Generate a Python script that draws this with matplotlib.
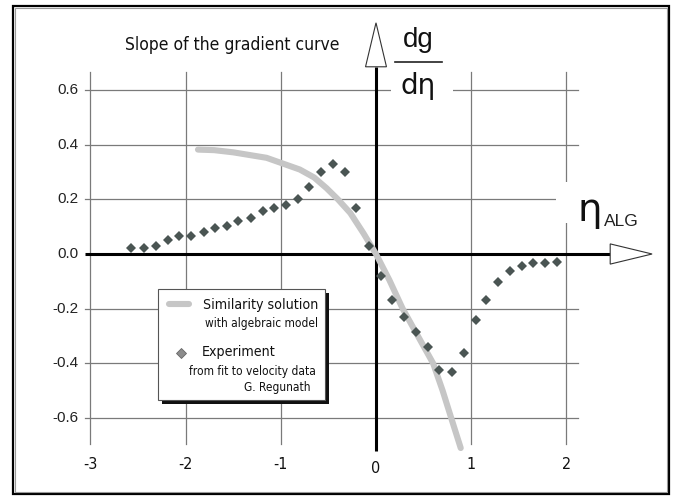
import matplotlib
matplotlib.use('Agg')
import matplotlib.pyplot as plt
from matplotlib.patches import Rectangle, Polygon
from matplotlib.transforms import Affine2D

W, H = 676, 497
NARROW = ['Liberation Sans Narrow', 'DejaVu Sans']
REG = ['Liberation Sans', 'DejaVu Sans']

# ── DATA ────────────────────────────────────────────────────────────────────
exp_x = [-2.57, -2.44, -2.31, -2.19, -2.07, -1.94, -1.81, -1.69, -1.57, -1.445,
         -1.316, -1.19, -1.07, -0.945, -0.82, -0.70, -0.58, -0.455, -0.326, -0.21,
         -0.075, 0.05, 0.167, 0.29, 0.425, 0.547, 0.663, 0.795, 0.925, 1.047,
         1.155, 1.285, 1.41, 1.53, 1.65, 1.775, 1.905]
exp_y = [0.021, 0.021, 0.029, 0.051, 0.066, 0.066, 0.082, 0.094, 0.104, 0.119,
         0.131, 0.159, 0.168, 0.178, 0.202, 0.244, 0.300, 0.331, 0.300, 0.168,
         0.029, -0.081, -0.168, -0.231, -0.285, -0.342, -0.424, -0.433, -0.362, -0.243,
         -0.167, -0.102, -0.061, -0.043, -0.034, -0.034, -0.028]

sim_x = [-1.87, -1.7, -1.5, -1.15, -0.8, -0.65, -0.52, -0.4, -0.27, -0.13,
         0.0, 0.14, 0.28, 0.44, 0.6, 0.7, 0.79, 0.89]
sim_y = [0.382, 0.38, 0.372, 0.352, 0.309, 0.28, 0.241, 0.2, 0.15, 0.075,
         0.0, -0.095, -0.2, -0.3, -0.4, -0.5, -0.6, -0.71]

xticks = [-3, -2, -1, 0, 1, 2]
yticks = [-0.6, -0.4, -0.2, 0.0, 0.2, 0.4, 0.6]
ytick_labels = ['-0.6', '-0.4', '-0.2', '0.0', '0.2', '0.4', '0.6']

# ── FIGURE ──────────────────────────────────────────────────────────────────
fig = plt.figure(figsize=(W / 100, H / 100), dpi=100)
ax = fig.add_axes([0, 0, 1, 1])
ax.set_axis_off()
X0, Y0, SX, SY = 376, 254, 95.2, 273.3   # origin pixel and px per unit
ax.set_xlim(-X0 / SX, (W - X0) / SX)
ax.set_ylim(-(H - Y0) / SY, Y0 / SY)
ax.set_autoscale_on(False)

# pixel transform (origin top-left) for the decoration
T = Affine2D().scale(1, -1).translate(0, H)


def ntext(x, y, s, size, **kw):
    # condensed text, in pixel coords
    ax.text(x, y, s, fontsize=size, family=NARROW, stretch='condensed',
            color='#111111', va='center', transform=T, zorder=8, **kw)


# frame
ax.add_patch(Rectangle((13, 6), 656, 488, fill=False, ec='black', lw=1.6, transform=T))
ax.add_patch(Rectangle((15, 8), 652, 484, fill=False, ec='#9a9a9a', lw=0.8, transform=T))

# grid
gx0, gx1 = -3.06, 2.12
gy0, gy1 = -0.695, 0.665
grid_c = '#7a7a7a'
for y in yticks:
    if y != 0:
        ax.plot([gx0, gx1], [y, y], color=grid_c, lw=0.9, zorder=1)
for x in xticks:
    if x != 0:
        ax.plot([x, x], [gy0, gy1], color=grid_c, lw=0.9, zorder=1)

# tick labels
for y, lab in zip(yticks, ytick_labels):
    ax.text(-3.12, y, lab, ha='right', va='center', fontsize=11, family=REG, color='#222222')
for x in xticks:
    ax.text(x, -0.77 if x != 0 else -0.785, str(x), ha='center', va='center',
            fontsize=11.5, family=NARROW, stretch='condensed', color='#111111')

# white boxes behind the axis labels
ax.add_patch(Rectangle((391, 18), 62, 98, fc='white', ec='none', zorder=2, transform=T))
ax.add_patch(Rectangle((556, 182), 96, 41, fc='white', ec='none', zorder=2, transform=T))

# axes lines + hollow arrows
ax.plot([gx0, 2.46], [0, 0], color='black', lw=2.2, zorder=3, solid_capstyle='butt')
ax.plot([0, 0], [-0.72, 0.685], color='black', lw=2.2, zorder=3, solid_capstyle='butt')
ax.add_patch(Polygon([[2.46, 0.037], [2.90, 0.0], [2.46, -0.037]], closed=True,
                     fc='white', ec='#333333', lw=0.8, zorder=3))
ax.add_patch(Polygon([[-0.11, 0.685], [0.0, 0.846], [0.11, 0.685]], closed=True,
                     fc='white', ec='#333333', lw=0.8, zorder=3))

# data
ax.plot(sim_x, sim_y, color='#c6c6c6', lw=4.4, solid_capstyle='round', zorder=4)
ax.plot(exp_x, exp_y, ls='none', marker='D', ms=5.4, mew=0, color='#4a5553', zorder=5)

# labels
ntext(232, 45, 'Slope of the gradient curve', 12.5, ha='center')
ax.text(418, 40, 'dg', ha='center', va='center', fontsize=20, family=REG,
        color='#111111', transform=T, zorder=6)
ax.plot([395, 442], [62, 62], color='#222222', lw=1.2, transform=T, zorder=6)
ax.text(418, 86, 'dη', ha='center', va='center', fontsize=20, family=['DejaVu Sans'],
        color='#111111', transform=T, zorder=6)
ax.text(590, 210, 'η', ha='center', va='center', fontsize=28, family=['DejaVu Sans'],
        color='#111111', transform=T, zorder=6)
ax.text(604, 221, 'ALG', ha='left', va='center', fontsize=12.5, family=REG,
        color='#222222', transform=T, zorder=6)

# legend box with shadow
ax.add_patch(Rectangle((162, 293), 167, 111, fc='#111111', ec='none', zorder=6, transform=T))
ax.add_patch(Rectangle((158, 289), 167, 111, fc='white', ec='#555555', lw=0.8, zorder=7, transform=T))
ax.plot([169, 189], [304, 304], color='#c6c6c6', lw=4.4, solid_capstyle='round',
        transform=T, zorder=8)
ax.plot([181], [353], marker='D', ms=4.6, color='#8c8c8c', mec='#666666', mew=0.6,
        transform=T, zorder=8)
ntext(318, 305, 'Similarity solution', 10.2, ha='right')
ntext(318, 323, 'with algebraic model', 8.6, ha='right')
ntext(202, 352, 'Experiment', 10.2, ha='left')
ntext(316, 371, 'from fit to velocity data', 8.6, ha='right')
ntext(310, 387, 'G. Regunath', 8.6, ha='right')

fig.savefig('out.png', dpi=100)
